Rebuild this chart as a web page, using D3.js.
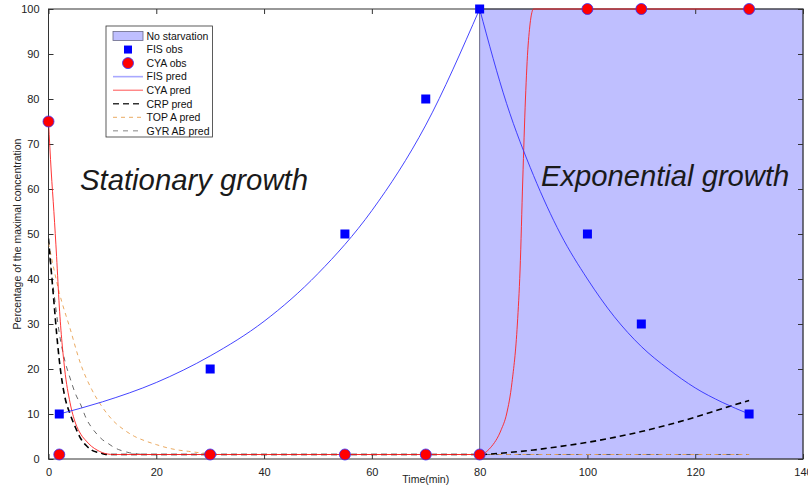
<!DOCTYPE html>
<html><head><meta charset="utf-8">
<script src="https://cdn.jsdelivr.net/npm/d3@7"></script>
<style>body{margin:0;background:#fff}svg{display:block;font-family:"Liberation Sans",Arial,sans-serif}</style>
</head><body><svg id="c" width="808" height="488"></svg>
<script>
// ---- data ----
const xTicks = [0,20,40,60,80,100,120,140];
const yTicks = [0,10,20,30,40,50,60,70,80,90,100];
const shadeRange = [80,140];
const fisObsT = [2,30,55,70,80,100,110,130];
const fisObsV = [10,20,50,80,100,50,30,10];
const cyaObsT = [0,2,30,55,70,80,100,110,130];
const cyaObsV = [75,1,1,1,1,1,100,100,100];
const fisPredT = [2,10,20,30,40,50,60,70,80,85,90,95,100,105,110,115,120,125,130];
const fisPredV = [10,12.7,17,22.9,30.6,41.2,55.2,74.2,100,79,63,50,40,31.6,25,20,15.8,12.6,10];
const cyaPredT = [0,0.5,1,1.5,2,3,4,5,6,7,8,9,10,11,12,80,82,84,85,86,87,87.5,88,88.5,89,90,130];
const cyaPredV = [75,64,55,45,34,20,12.5,8,5.5,4,2.8,2,1.4,1.1,1,1,2.5,6.5,10,17,30,42,62,80,92,100,100];
const crpPredT = [0,0.5,1,1.5,2,3,4,5,6,7,8,9,10,11,80,85,90,95,100,105,110,115,120,125,130];
const crpPredV = [49,42,35,28,22,14,10,7,4.5,3,2,1.5,1.2,1,1,1.4,2,2.8,3.7,4.8,6.1,7.6,9.3,11.2,13];
const topPredT = [0,2,4,6,8,10,12,14,16,18,20,22,24,26,28,30,32,130];
const topPredV = [48,37,29,21,15.5,11.5,8.5,6.5,5,4,3.2,2.5,2,1.7,1.4,1.2,1,1];
const gyrPredT = [0,1,2,3,4,5,6,7,8,9,10,11,12,13,14,15,16,18,130];
const gyrPredV = [47,37,28,22,18,14.5,12,9,7,5.5,4.3,3.5,2.7,2.1,1.7,1.4,1.2,1,1];
const legendLabels = ["No starvation","FIS obs","CYA obs","FIS pred","CYA pred","CRP pred","TOP A pred","GYR AB pred"];

// ---- chart ----
const svg = d3.select("#c");
const x = d3.scaleLinear().domain([0,140]).range([48.5,803]);
const y = d3.scaleLinear().domain([0,100]).range([459,9]);
const zip = (t,v)=>t.map((d,i)=>[d,v[i]]);

svg.append("clipPath").attr("id","clip").append("rect")
  .attr("x",x(0)).attr("y",y(100)-1).attr("width",x(140)-x(0)).attr("height",y(0)-y(100)+2);

// shaded region
svg.append("rect").attr("x",x(shadeRange[0])).attr("y",y(100))
  .attr("width",x(shadeRange[1])-x(shadeRange[0])).attr("height",y(0)-y(100))
  .attr("fill","#bfbfff").attr("stroke","#6a6a88").attr("stroke-width",1);

// axes box
svg.append("rect").attr("x",x(0)).attr("y",y(100)).attr("width",x(140)-x(0)).attr("height",y(0)-y(100))
  .attr("fill","none").attr("stroke","#333").attr("stroke-width",1);
svg.append("g").attr("transform",`translate(0,${y(0)})`)
  .call(d3.axisBottom(x).tickValues(xTicks).tickSize(-5).tickPadding(9).tickFormat(d3.format("d")));
svg.append("g").attr("transform",`translate(${x(0)},0)`)
  .call(d3.axisLeft(y).tickValues(yTicks).tickSize(-5).tickPadding(9).tickFormat(d3.format("d")));
svg.append("g").attr("transform",`translate(0,${y(100)})`)
  .call(d3.axisTop(x).tickValues(xTicks).tickSize(-5).tickFormat(""));
svg.append("g").attr("transform",`translate(${x(140)},0)`)
  .call(d3.axisRight(y).tickValues(yTicks).tickSize(-5).tickFormat(""));
svg.selectAll(".domain").remove();
svg.selectAll(".tick line").attr("stroke","#333");
svg.selectAll(".tick text").attr("font-size",11).attr("fill","#222").attr("font-family","Liberation Sans, Arial, sans-serif");

// axis labels
svg.append("text").attr("x",(x(0)+x(140))/2).attr("y",483).attr("text-anchor","middle")
  .attr("font-size",10.5).attr("fill","#222").text("Time(min)");
svg.append("text").attr("transform",`translate(21,${(y(0)+y(100))/2}) rotate(-90)`).attr("text-anchor","middle")
  .attr("font-size",10.5).attr("fill","#222").text("Percentage of the maximal concentration");

// annotations
svg.append("text").attr("x",80).attr("y",190).attr("font-size",29.3).attr("font-style","italic")
  .attr("fill","#1a1a1a").text("Stationary growth");
svg.append("text").attr("x",541).attr("y",186).attr("font-size",29.2).attr("font-style","italic")
  .attr("fill","#1a1a1a").text("Exponential growth");

// prediction lines
const line = d3.line().x(d=>x(d[0])).y(d=>y(d[1])).curve(d3.curveMonotoneX);
const lg = svg.append("g").attr("clip-path","url(#clip)");
const styles = [
  {t:fisPredT,v:fisPredV,c:"#3030ff",w:0.9,dash:null,split:true},
  {t:cyaPredT,v:cyaPredV,c:"#ff2020",w:0.9,dash:null},
  {t:crpPredT,v:crpPredV,c:"#000",w:1.6,dash:"6,4"},
  {t:topPredT,v:topPredV,c:"#e8a050",w:0.9,dash:"4,4"},
  {t:gyrPredT,v:gyrPredV,c:"#444",w:0.8,dash:"5,5"}
];
[4,3,2,1,0].forEach(i=>{
  const s=styles[i];
  const pts = zip(s.t,s.v);
  let segs = [pts];
  if (s.split) {
    const k = d3.maxIndex(s.v);
    segs = [pts.slice(0,k+1), pts.slice(k)];
  }
  segs.forEach(seg=>{
    lg.append("path").datum(seg).attr("d",line).attr("fill","none")
      .attr("stroke",s.c).attr("stroke-width",s.w).attr("stroke-dasharray",s.dash);
  });
});

// observations
svg.append("g").selectAll("rect").data(zip(fisObsT,fisObsV)).join("rect")
  .attr("x",d=>x(d[0])-4.5).attr("y",d=>y(d[1])-4.5).attr("width",9).attr("height",9).attr("fill","#0000ff");
svg.append("g").selectAll("circle").data(zip(cyaObsT,cyaObsV)).join("circle")
  .attr("cx",d=>x(d[0])).attr("cy",d=>y(d[1])).attr("r",5.5).attr("fill","#ff0000")
  .attr("stroke","#3030ff").attr("stroke-width",0.8);

// legend
const L = svg.append("g");
L.append("rect").attr("x",106).attr("y",26).attr("width",106.5).attr("height",111)
  .attr("fill","#fff").attr("stroke","#333").attr("stroke-width",0.8);
const rowY = i=>36+i*13.55;
legendLabels.forEach((lab,i)=>{
  L.append("text").attr("x",146.5).attr("y",rowY(i)+3.8).attr("font-size",10.5).attr("fill","#111").text(lab);
});
L.append("rect").attr("x",113).attr("y",rowY(0)-4.5).attr("width",30).attr("height",9)
  .attr("fill","#bfbfff").attr("stroke","#6a6a88").attr("stroke-width",0.8);
L.append("rect").attr("x",128-4).attr("y",rowY(1)-4).attr("width",8).attr("height",8).attr("fill","#0000ff");
L.append("circle").attr("cx",128).attr("cy",rowY(2)).attr("r",5.5).attr("fill","#ff0000").attr("stroke","#3030ff").attr("stroke-width",0.8);
const legLines = [
  {c:"#a8a8ff",w:1.6,dash:null},
  {c:"#ff4040",w:0.9,dash:null},
  {c:"#333",w:1.6,dash:"6,4"},
  {c:"#e8a050",w:0.9,dash:"4,4"},
  {c:"#777",w:0.9,dash:"5,5"}
];
legLines.forEach((s,k)=>{
  L.append("line").attr("x1",113).attr("x2",143).attr("y1",rowY(k+3)).attr("y2",rowY(k+3))
    .attr("stroke",s.c).attr("stroke-width",s.w).attr("stroke-dasharray",s.dash);
});
</script></body></html>
